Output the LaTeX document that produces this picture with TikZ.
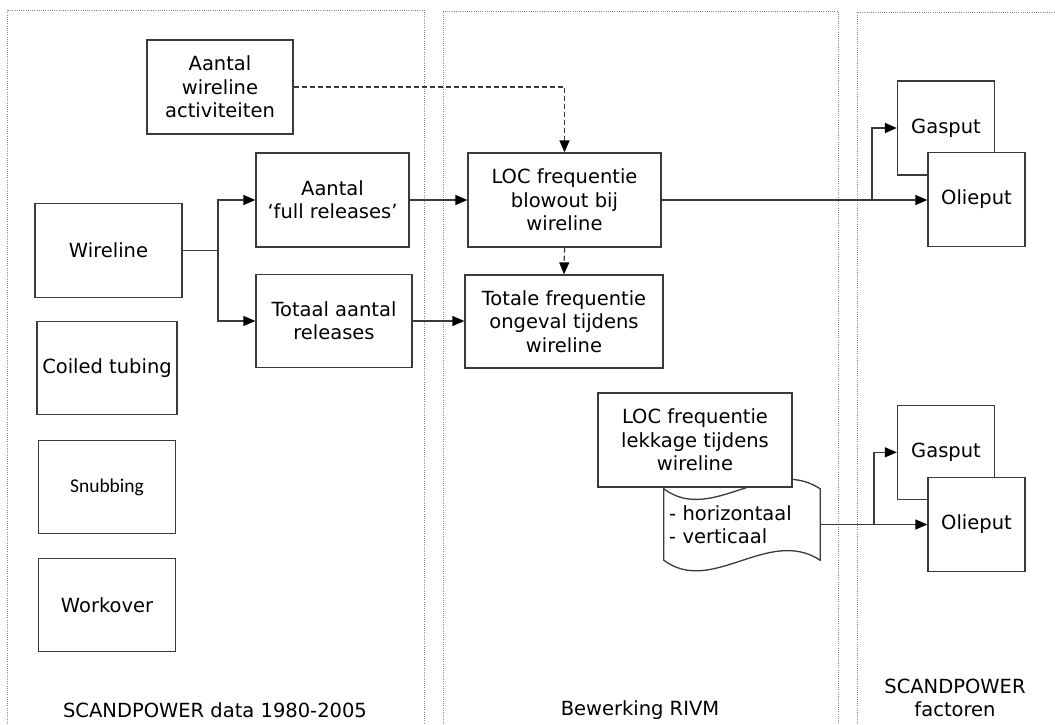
\documentclass[tikz,border=0pt]{standalone}
\usepackage{fontspec}
\setmainfont{DejaVu Sans}
\newfontfamily\carlito{Carlito}
\usetikzlibrary{arrows.meta}
\definecolor{edge}{HTML}{3A3A3A}
\definecolor{frame}{HTML}{8A8A8A}
\tikzset{
  txt/.style={font=\fontsize{19.5}{23.3}\selectfont, text=black, align=center, inner sep=0pt},
  blk/.style={txt, draw=edge, line width=1.3pt, fill=white},
  link/.style={draw=edge, line width=1.3pt},
  arr/.style={link, -{Triangle[length=12pt,width=10pt,color=black]}},
  darr/.style={arr, dash pattern=on 5pt off 3pt},
  column/.style={draw=frame, line width=0.9pt, dash pattern=on 1pt off 1.2pt}
}
\begin{document}
\begin{tikzpicture}[x=1pt, y=-1pt]
\useasboundingbox (0,0) rectangle (1055,724);

% column frames
\draw[column] (7,724) -- (7,10) -- (424,10) -- (424,724);
\draw[column] (443,724) -- (443,11) -- (838,11) -- (838,724);
\draw[column] (857,724) -- (857,12) -- (1055,12);

% source data
\node[blk, minimum width=146pt, minimum height=94pt] (act) at (220,87) {Aantal\\wireline\\activiteiten};
\node[blk, minimum width=147pt, minimum height=94pt] (wire) at (108.5,250.5) {Wireline};
\node[blk, minimum width=140pt, minimum height=93pt] (coil) at (107,368) {Coiled tubing};
\node[blk, minimum width=137pt, minimum height=93pt, font=\carlito\fontsize{19.5}{23}\selectfont] (snub) at (107,487) {Snubbing};
\node[blk, minimum width=137pt, minimum height=93pt] (work) at (107,605) {Workover};
\node[blk, minimum width=153pt, minimum height=94pt] (full) at (332.5,200) {Aantal\\‘full releases’};
\node[blk, minimum width=156pt, minimum height=93pt] (tot) at (334,321) {Totaal aantal\\releases};

% processing
\node[blk, minimum width=193pt, minimum height=94pt] (loc) at (564.5,200) {LOC frequentie\\blowout bij\\wireline};
\node[blk, minimum width=198pt, minimum height=93pt] (totf) at (564,321.5) {Totale frequentie\\ongeval tijdens\\wireline};

% punched tape with the leak directions
\node[txt, align=left, text width=146pt, inner xsep=5pt, minimum width=156pt, minimum height=71pt] (doc) at (742,524.5) {- horizontaal\\- verticaal};
\draw[link] (doc.north west) .. controls +(48,36) and +(-52,-34) .. (doc.north east)
  -- (doc.south east) .. controls +(-52,-34) and +(48,36) .. (doc.south west) -- cycle;
\node[blk, minimum width=194pt, minimum height=94pt] (lek) at (695,440) {LOC frequentie\\lekkage tijdens\\wireline};

% factors
\node[blk, minimum width=97pt, minimum height=94pt] (gas1) at (946,128) {Gasput};
\node[blk, minimum width=97pt, minimum height=94pt] (oil1) at (976.5,199.5) {Olieput};
\node[blk, minimum width=97pt, minimum height=94pt] (gas2) at (946,452.3) {Gasput};
\node[blk, minimum width=97pt, minimum height=94pt] (oil2) at (976.5,524.3) {Olieput};

% connectors
\coordinate (br1) at (218,250.5);
\draw[link] (wire.east) -- (br1);
\draw[arr] (br1) |- (full.west);
\draw[arr] (br1) |- (tot.west);
\draw[arr] (full.east) -- (loc.west);
\draw[arr] (tot.east) -- (tot.east -| totf.west);
\draw[darr] (act.east) -| (loc.north);
\draw[darr] (loc.south) -- (totf.north);

\coordinate (br2) at (872,200);
\draw[arr] (loc.east) -- (loc.east -| oil1.west);
\draw[arr] (br2) |- (gas1.west);

\coordinate (br3) at (874,524.5);
\draw[arr] (doc.east) -- (doc.east -| oil2.west);
\draw[arr] (br3) |- (gas2.west);

% column captions
\node[txt] (lab1) at (215,710) {SCANDPOWER data 1980-2005};
\node[txt] (lab2) at (640,710) {Bewerking RIVM};
\node[txt] (lab3) at (955,698) {SCANDPOWER\\factoren};
\end{tikzpicture}
\end{document}
